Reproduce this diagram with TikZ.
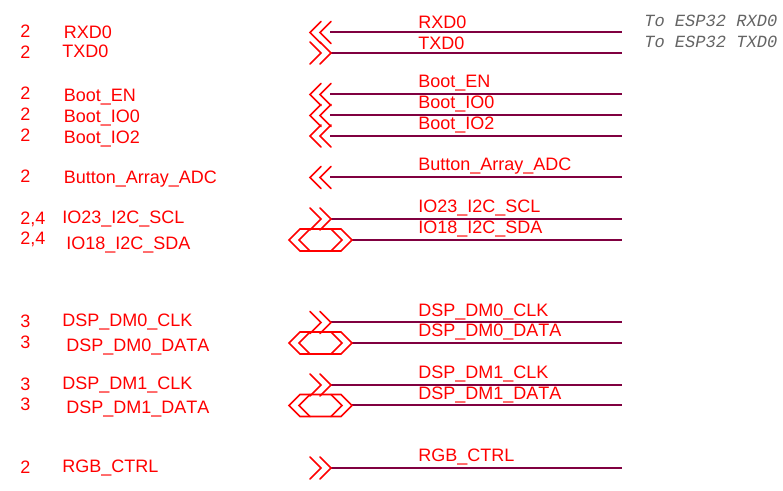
\documentclass[tikz,border=0pt]{standalone}
\usepackage{xcolor}
\usepackage{fontspec}
\setmainfont[Kerning=Off]{Liberation Sans}
\setmonofont{Liberation Mono}
\definecolor{netred}{RGB}{255,0,0}
\definecolor{netwire}{RGB}{128,0,64}
\definecolor{notegray}{RGB}{100,100,100}

\begin{document}
\begin{tikzpicture}[x=0.75pt, y=-0.75pt,
        every node/.style={inner sep=0pt, text=netred, font=\fontsize{13.5}{16}\selectfont},
        netlabel/.style={anchor=base west, yshift=-0.5pt},
        signame/.style={anchor=base west},
        pageref/.style={anchor=base west, yshift=-0.5pt},
        noteText/.style={anchor=base west, yshift=-0.5pt, text=notegray, font=\fontsize{12.8}{15}\ttfamily\itshape},
        wire/.style={netwire, line width=1.5pt},
        flagline/.style={netred, line width=1.3pt, line cap=round},
        flagin/.pic={
            \draw[flagline] (-9,-11) -- (-20,0) -- (-9,11);
            \draw[flagline] (1,-11) -- (-10,0) -- (1,11);
        },
        flagout/.pic={
            \draw[flagline] (-21,-11) -- (-10,0) -- (-21,11);
            \draw[flagline] (-11,-11) -- (0,0) -- (-11,11);
        },
        flagbi/.pic={
            \draw[flagline] (-63,0) -- (-52,-11) -- (-11,-11) -- (0,0) -- (-11,11) -- (-52,11) -- cycle;
            \draw[flagline] (-42,-11) -- (-53,0) -- (-42,11);
            \draw[flagline] (-21,-11) -- (-10,0) -- (-21,11);
        }]
        \useasboundingbox (0,0) rectangle (783,491);

        % wire ends
        \coordinate (rxdA) at (330,32.5);   \coordinate (rxdB) at (622,32.5);
        \coordinate (txdA) at (331,53);   \coordinate (txdB) at (622,53);
        \coordinate (enA) at (330,94.5);    \coordinate (enB) at (622,94.5);
        \coordinate (ioZeroA) at (330,115.5); \coordinate (ioZeroB) at (622,115.5);
        \coordinate (ioTwoA) at (330,136);  \coordinate (ioTwoB) at (622,136);
        \coordinate (adcA) at (330,177.5);  \coordinate (adcB) at (622,177.5);
        \coordinate (sclA) at (331,219);  \coordinate (sclB) at (622,219);
        \coordinate (sdaA) at (352,240);  \coordinate (sdaB) at (622,240);
        \coordinate (clkZeroA) at (331,322.5);  \coordinate (clkZeroB) at (622,322.5);
        \coordinate (dataZeroA) at (352,343); \coordinate (dataZeroB) at (622,343);
        \coordinate (clkOneA) at (331,385);   \coordinate (clkOneB) at (622,385);
        \coordinate (dataOneA) at (352,405.5);  \coordinate (dataOneB) at (622,405.5);
        \coordinate (rgbA) at (331,468);  \coordinate (rgbB) at (622,468);

        \draw[wire] (rxdA) -- (rxdB);
        \draw[wire] (txdA) -- (txdB);
        \draw[wire] (enA) -- (enB);
        \draw[wire] (ioZeroA) -- (ioZeroB);
        \draw[wire] (ioTwoA) -- (ioTwoB);
        \draw[wire] (adcA) -- (adcB);
        \draw[wire] (sclA) -- (sclB);
        \draw[wire] (sdaA) -- (sdaB);
        \draw[wire] (clkZeroA) -- (clkZeroB);
        \draw[wire] (dataZeroA) -- (dataZeroB);
        \draw[wire] (clkOneA) -- (clkOneB);
        \draw[wire] (dataOneA) -- (dataOneB);
        \draw[wire] (rgbA) -- (rgbB);

        % port flags
        \pic at (rxdA) {flagin};
        \pic at (txdA) {flagout};
        \pic at (enA) {flagin};
        \pic at (ioZeroA) {flagin};
        \pic at (ioTwoA) {flagin};
        \pic at (adcA) {flagin};
        \pic at (sclA) {flagout};
        \pic at (sdaA) {flagbi};
        \pic at (clkZeroA) {flagout};
        \pic at (dataZeroA) {flagbi};
        \pic at (clkOneA) {flagout};
        \pic at (dataOneA) {flagbi};
        \pic at (rgbA) {flagout};

        % names above the wires
        \node[netlabel] (rxdNet) at (418,27.5) {RXD0};
        \node[netlabel] (txdNet) at (418,48.5) {TXD0};
        \node[netlabel] (enNet) at (418,86.5) {Boot\_EN};
        \node[netlabel] (ioZeroNet) at (418,107.5) {Boot\_IO0};
        \node[netlabel] (ioTwoNet) at (418,128.5) {Boot\_IO2};
        \node[netlabel] (adcNet) at (418,170) {Button\_Array\_ADC};
        \node[netlabel] (sclNet) at (418,211.5) {IO23\_I2C\_SCL};
        \node[netlabel] (sdaNet) at (418,232.5) {IO18\_I2C\_SDA};
        \node[netlabel] (clkZeroNet) at (418,315.5) {DSP\_DM0\_CLK};
        \node[netlabel] (dataZeroNet) at (418,336) {DSP\_DM0\_DATA};
        \node[netlabel] (clkOneNet) at (418,377.5) {DSP\_DM1\_CLK};
        \node[netlabel] (dataOneNet) at (418,398.5) {DSP\_DM1\_DATA};
        \node[netlabel] (rgbNet) at (418,460.5) {RGB\_CTRL};

        % names on the left
        \node[signame] (rxdName) at (63.5,39) {RXD0};
        \node[signame] (txdName) at (62,58) {TXD0};
        \node[signame] (enName) at (63.5,101.5) {Boot\_EN};
        \node[signame] (ioZeroName) at (63.5,122.5) {Boot\_IO0};
        \node[signame] (ioTwoName) at (63.5,143.5) {Boot\_IO2};
        \node[signame] (adcName) at (63.5,184) {Button\_Array\_ADC};
        \node[signame] (sclName) at (62,224) {IO23\_I2C\_SCL};
        \node[signame] (sdaName) at (66,249.5) {IO18\_I2C\_SDA};
        \node[signame] (clkZeroName) at (62,327) {DSP\_DM0\_CLK};
        \node[signame] (dataZeroName) at (66,352) {DSP\_DM0\_DATA};
        \node[signame] (clkOneName) at (62,390) {DSP\_DM1\_CLK};
        \node[signame] (dataOneName) at (66,414) {DSP\_DM1\_DATA};
        \node[signame] (rgbName) at (62,472.5) {RGB\_CTRL};

        % sheet numbers
        \node[pageref] (rxdPage) at (20,37) {2};
        \node[pageref] (txdPage) at (20,57.5) {2};
        \node[pageref] (enPage) at (20,99) {2};
        \node[pageref] (ioZeroPage) at (20,120) {2};
        \node[pageref] (ioTwoPage) at (20,140.5) {2};
        \node[pageref] (adcPage) at (20,181.5) {2};
        \node[pageref] (sclPage) at (20,223.5) {2,4};
        \node[pageref] (sdaPage) at (20,244) {2,4};
        \node[pageref] (clkZeroPage) at (20,327) {3};
        \node[pageref] (dataZeroPage) at (20,347.5) {3};
        \node[pageref] (clkOnePage) at (20,390) {3};
        \node[pageref] (dataOnePage) at (20,410) {3};
        \node[pageref] (rgbPage) at (20,472.5) {2};

        \node[noteText] (rxdNote) at (644,26) {To ESP32 RXD0};
        \node[noteText] (txdNote) at (644,46.5) {To ESP32 TXD0};
    \end{tikzpicture}
\end{document}
